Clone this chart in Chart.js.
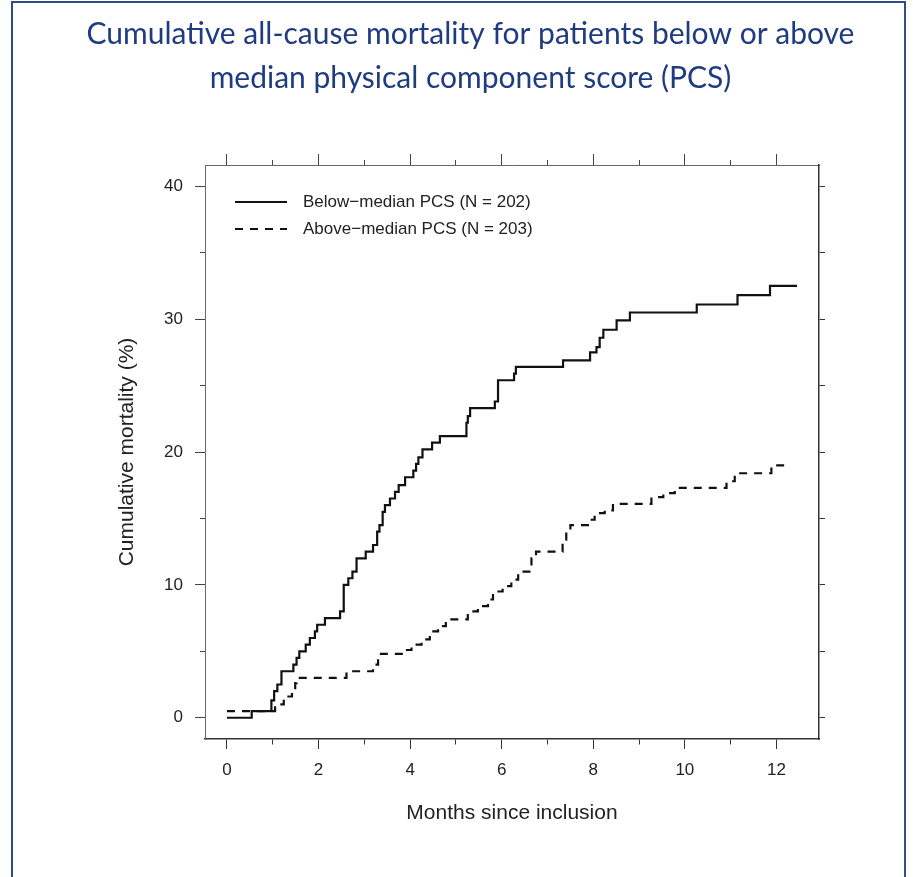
<!DOCTYPE html>
<html>
<head>
<meta charset="utf-8">
<script src="https://cdn.jsdelivr.net/npm/chart.js@4"></script>
<style>
  html, body { margin: 0; padding: 0; background: #fff; }
  #wrap { position: relative; width: 913px; height: 877px; overflow: hidden; }
  #frame { position: absolute; left: 11px; top: 1px; width: 891px; height: 900px; border: 2px solid #2f4d86; }
  canvas { position: absolute; left: 0; top: 0; }
</style>
</head>
<body>
<div id="wrap">
  <div id="frame"></div>
  <canvas id="km" width="913" height="877"></canvas>
</div>
<script>
// values (months since inclusion, cumulative mortality %)
const belowMonths = [0, 0.54, 0.97, 1.03, 1.1, 1.19, 1.45, 1.52, 1.58, 1.72, 1.81, 1.92, 1.97, 2.14, 2.47, 2.55, 2.65, 2.74, 2.83, 3.03, 3.19, 3.28, 3.33, 3.4, 3.45, 3.56, 3.67, 3.75, 3.89, 4.07, 4.13, 4.18, 4.27, 4.48, 4.65, 5.23, 5.26, 5.31, 5.85, 5.92, 6.27, 6.31, 7.34, 7.93, 8.07, 8.14, 8.22, 8.51, 8.8, 10.26, 11.15, 11.86, 12.45];
const belowPct    = [0, 0.5, 1.3, 2.0, 2.5, 3.5, 4.0, 4.5, 5.0, 5.5, 6.0, 6.5, 7.0, 7.5, 8.0, 10.0, 10.5, 11.0, 12.0, 12.5, 13.0, 14.0, 14.5, 15.5, 16.0, 16.5, 17.0, 17.5, 18.1, 18.6, 19.1, 19.6, 20.2, 20.7, 21.2, 22.2, 22.7, 23.3, 23.8, 25.4, 25.9, 26.4, 26.9, 27.5, 27.9, 28.6, 29.2, 29.9, 30.5, 31.1, 31.8, 32.5, 32.5];

const aboveMonths = [0, 1.05, 1.24, 1.42, 1.49, 1.52, 2.61, 3.19, 3.3, 3.85, 4.03, 4.25, 4.43, 4.61, 4.78, 5.26, 5.48, 5.7, 5.81, 6.02, 6.21, 6.36, 6.65, 6.75, 7.33, 7.41, 7.5, 7.93, 8.03, 8.25, 8.43, 9.27, 9.53, 9.78, 10.91, 11.09, 11.89, 12.29];
const abovePct    = [0.5, 1.0, 1.6, 2.0, 2.6, 3.0, 3.5, 4.0, 4.8, 5.1, 5.5, 5.9, 6.5, 6.9, 7.4, 8.0, 8.4, 8.9, 9.5, 9.9, 10.4, 11.0, 12.0, 12.5, 13.4, 14.1, 14.5, 14.9, 15.4, 15.6, 16.1, 16.6, 16.9, 17.3, 17.8, 18.4, 19.0, 19.0];

const xTicks = [0, 1, 2, 3, 4, 5, 6, 7, 8, 9, 10, 11, 12];
const yTicks = [0, 5, 10, 15, 20, 25, 30, 35, 40];

const toPoints = (xs, ys) => xs.map((x, i) => ({ x: x, y: ys[i] }));
const setTicks = list => scale => { scale.ticks = list.map(v => ({ value: v })); };

const axisFont = { family: '"Liberation Sans", Arial, sans-serif', size: 17 };
const inkColor = '#222';

// short minor ticks: bottom/right draw outward from the border, top/left draw toward it
const shortFromBorder = [5, 40];
const shortToBorder = [0, 5, 5, 40];

// legend inside the plot, top-left corner
const legendBox = {
  id: 'legendBox',
  afterDatasetsDraw(chart) {
    const { ctx, chartArea } = chart;
    ctx.save();
    ctx.font = '17px "Liberation Sans", Arial, sans-serif';
    ctx.fillStyle = inkColor;
    ctx.textBaseline = 'middle';
    chart.data.datasets.forEach((ds, i) => {
      const y = chartArea.top + 37 + i * 27;
      ctx.beginPath();
      ctx.setLineDash(ds.borderDash || []);
      ctx.lineWidth = ds.borderWidth;
      ctx.strokeStyle = ds.borderColor;
      ctx.moveTo(chartArea.left + 30, y);
      ctx.lineTo(chartArea.left + 82, y);
      ctx.stroke();
      ctx.setLineDash([]);
      ctx.fillText(ds.label, chartArea.left + 98, y);
    });
    ctx.restore();
  }
};

new Chart(document.getElementById('km'), {
  type: 'line',
  data: {
    datasets: [{
      label: 'Below\u2212median PCS (N = 202)',
      data: toPoints(belowMonths, belowPct),
      stepped: true,
      borderColor: '#111',
      borderWidth: 2.2,
      pointRadius: 0,
      fill: false
    }, {
      label: 'Above\u2212median PCS (N = 203)',
      data: toPoints(aboveMonths, abovePct),
      stepped: true,
      borderColor: '#111',
      borderWidth: 2.2,
      borderDash: [8, 7],
      pointRadius: 0,
      fill: false
    }]
  },
  options: {
    responsive: false,
    animation: false,
    layout: { padding: { left: 28, right: 0, top: 0, bottom: 51 } },
    plugins: {
      legend: { display: false },
      tooltip: { enabled: false },
      title: {
        display: true,
        text: ['Cumulative all-cause mortality for patients below or above', 'median physical component score (PCS)'],
        color: '#1f3c80',
        font: { family: 'Lato, "Open Sans", sans-serif', size: 30, weight: 'normal', lineHeight: 1.45 },
        padding: { top: 13, bottom: 54 }
      }
    },
    scales: {
      x: {
        type: 'linear',
        position: 'bottom',
        min: -0.48,
        max: 12.93,
        afterBuildTicks: setTicks(xTicks),
        afterFit: s => { s.height = 87; },
        grid: {
          drawOnChartArea: false,
          tickLength: 10,
          tickColor: '#333',
          tickBorderDash: c => (c.tick && c.tick.value % 2 !== 0 ? shortFromBorder : [])
        },
        border: { display: true, color: '#333', width: 1.5 },
        ticks: {
          color: inkColor,
          font: axisFont,
          padding: 11,
          maxRotation: 0,
          callback: v => (v % 2 === 0 ? v : '')
        },
        title: {
          display: true,
          text: 'Months since inclusion',
          color: inkColor,
          font: { family: '"Liberation Sans", Arial, sans-serif', size: 21 },
          padding: 0
        }
      },
      x2: {
        type: 'linear',
        position: 'top',
        min: -0.48,
        max: 12.93,
        afterBuildTicks: setTicks(xTicks),
        afterFit: s => { s.height = 11; },
        grid: {
          drawOnChartArea: false,
          tickLength: 11,
          tickColor: '#444',
          tickBorderDash: c => (c.tick && c.tick.value % 2 !== 0 ? [0, 6, 5, 40] : [])
        },
        border: { display: true, color: '#666', width: 1 },
        ticks: { display: false }
      },
      y: {
        type: 'linear',
        position: 'left',
        min: -1.6,
        max: 41.6,
        afterBuildTicks: setTicks(yTicks),
        afterFit: s => { s.width = 177; },
        grid: {
          drawOnChartArea: false,
          tickLength: 10,
          tickColor: '#444',
          tickBorderDash: c => (c.tick && c.tick.value % 10 !== 0 ? shortToBorder : [])
        },
        border: { display: true, color: '#666', width: 1 },
        ticks: {
          color: inkColor,
          font: axisFont,
          padding: 12,
          callback: v => (v % 10 === 0 ? v : '')
        },
        title: {
          display: true,
          text: 'Cumulative mortality (%)',
          color: inkColor,
          font: { family: '"Liberation Sans", Arial, sans-serif', size: 21 },
          padding: { top: 87, bottom: 0 }
        }
      },
      y2: {
        type: 'linear',
        position: 'right',
        min: -1.6,
        max: 41.6,
        afterBuildTicks: setTicks(yTicks),
        afterFit: s => { s.width = 94; },
        grid: {
          drawOnChartArea: false,
          tickLength: 6,
          tickColor: '#333'
        },
        border: { display: true, color: '#333', width: 1.5 },
        ticks: { display: false }
      }
    }
  },
  plugins: [legendBox]
});
</script>
</body>
</html>
